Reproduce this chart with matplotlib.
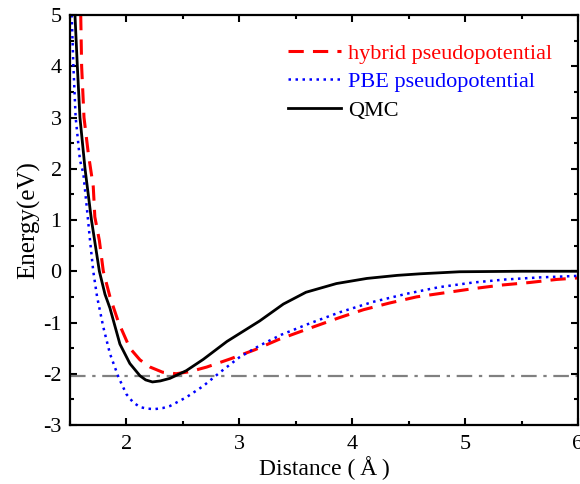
import matplotlib
matplotlib.use("Agg")
import matplotlib.pyplot as plt
from matplotlib.ticker import MultipleLocator

plt.rcParams['font.family'] = ['Liberation Serif', 'DejaVu Sans']
plt.rcParams['axes.unicode_minus'] = False

# QMC (black solid)
qmc_x = [1.544, 1.565, 1.588, 1.633, 1.69, 1.76, 1.81, 1.854, 1.942, 2.03, 2.12, 2.17, 2.23,
         2.30, 2.385, 2.53, 2.68, 2.89, 3.18, 3.39, 3.59, 3.86, 4.13, 4.4, 4.6, 4.95, 5.5, 6.0]
qmc_y = [5.0, 4.0, 3.0, 2.0, 1.0, 0.0, -0.45, -0.72, -1.42, -1.8, -2.04, -2.12, -2.16,
         -2.14, -2.09, -1.94, -1.72, -1.37, -0.97, -0.64, -0.41, -0.24, -0.14, -0.08, -0.05, -0.01, 0.0, 0.0]

# hybrid pseudopotential (red dashed)
hyb_x = [1.595, 1.603, 1.624, 1.662, 1.706, 1.72, 1.76, 1.795, 1.854, 1.93, 2.03, 2.12,
         2.21, 2.32, 2.44, 2.56, 2.71, 2.92, 3.14, 3.35, 3.6, 3.88, 4.1, 4.33, 4.57, 4.82,
         5.07, 5.32, 5.57, 5.81, 6.0]
hyb_y = [5.0, 4.0, 3.0, 2.3, 1.65, 1.06, 0.6, 0.0, -0.5, -1.0, -1.5, -1.73,
         -1.87, -1.97, -2.0, -1.96, -1.87, -1.71, -1.53, -1.33, -1.13, -0.91, -0.75, -0.62, -0.5, -0.42,
         -0.34, -0.27, -0.22, -0.16, -0.13]

# PBE pseudopotential (blue dotted)
pbe_x = [1.515, 1.53, 1.55, 1.588, 1.618, 1.648, 1.677, 1.706, 1.74, 1.795, 1.854, 1.93,
         2.0, 2.06, 2.12, 2.18, 2.25, 2.32, 2.385, 2.53, 2.68, 2.83, 3.0, 3.18, 3.37, 3.62, 3.89, 4.18,
         4.48, 4.77, 5.07, 5.36, 5.66, 6.0]
pbe_y = [5.0, 4.0, 3.0, 2.17, 1.91, 1.26, 0.61, 0.0, -0.5, -1.09, -1.61, -2.07,
         -2.4, -2.56, -2.65, -2.68, -2.69, -2.67, -2.63, -2.46, -2.24, -1.97, -1.68, -1.45, -1.24, -1.02, -0.8, -0.6,
         -0.44, -0.31, -0.22, -0.16, -0.12, -0.09]

ref_level = -2.04

x_ticks = [2, 3, 4, 5, 6]
y_ticks = [-3, -2, -1, 0, 1, 2, 3, 4, 5]

fig = plt.figure(figsize=(5.8, 4.84), dpi=100)
ax = fig.add_axes([0.1207, 0.1219, 0.8759, 0.8471])

ax.axhline(ref_level, color='#808080', lw=1.6, dashes=(7, 3, 1.5, 3))
ax.plot(hyb_x, hyb_y, color='red', lw=2.2, dashes=(5, 3), label='hybrid pseudopotential')
ax.plot(pbe_x, pbe_y, color='blue', lw=1.8, dashes=(1, 1.8), label='PBE pseudopotential')
ax.plot(qmc_x, qmc_y, color='black', lw=2.0, label='QMC')

ax.set_xlim(1.5, 6)
ax.set_ylim(-3, 5)
ax.set_xticks(x_ticks)
ax.set_yticks(y_ticks)
ax.xaxis.set_minor_locator(MultipleLocator(0.5))
ax.yaxis.set_minor_locator(MultipleLocator(0.5))
ax.tick_params(which='both', direction='in', top=True, right=True, labelsize=16, width=1.5)
ax.tick_params(which='major', length=5)
ax.tick_params(which='minor', length=3)
ax.tick_params(axis='y', pad=6)
ax.tick_params(axis='x', pad=7)
for s in ax.spines.values():
    s.set_linewidth(1.6)

ax.set_xlabel('Distance (\u2009Å\u2009)', fontsize=17, labelpad=2)
ax.set_ylabel('Energy(eV)', fontsize=18, labelpad=2)

leg = ax.legend(loc='upper left', bbox_to_anchor=(0.429, 0.931), frameon=False,
                fontsize=16, handlelength=2.4, handletextpad=0.3, labelspacing=0.35,
                borderpad=0, borderaxespad=0, labelcolor='linecolor')

fig.savefig('out.png', dpi=100)
